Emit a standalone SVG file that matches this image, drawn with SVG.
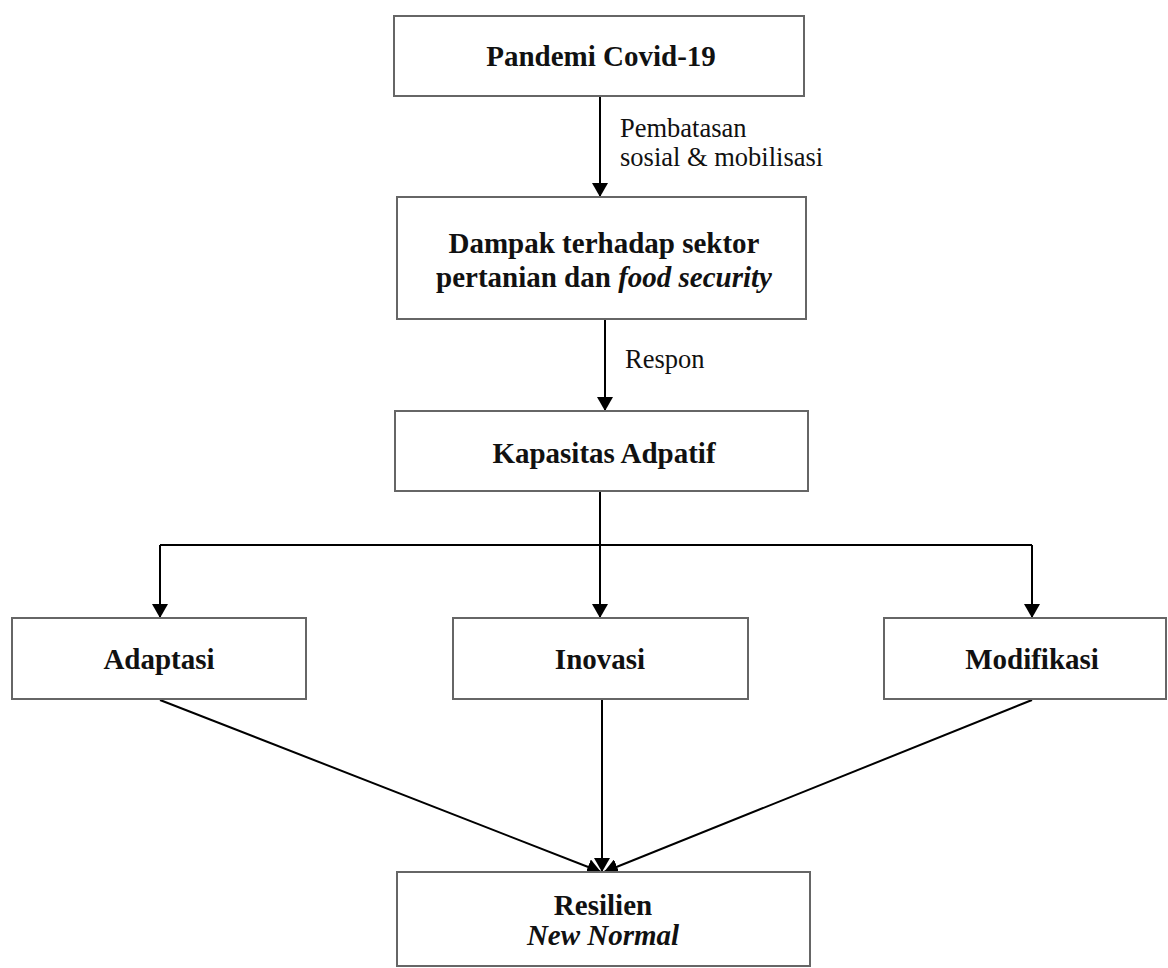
<svg xmlns="http://www.w3.org/2000/svg" width="1168" height="968" viewBox="0 0 1168 968">
<style>
.box{fill:#fff;stroke:#666;stroke-width:2}
.t{font-family:"Liberation Serif","Times New Roman",serif;font-size:29px;font-weight:bold;fill:#111;text-anchor:middle}
.l{font-family:"Liberation Serif","Times New Roman",serif;font-size:26.5px;fill:#111}
.c{fill:none;stroke:#000;stroke-width:2}
</style>
<defs>
<marker id="ah" viewBox="0 0 14 16" refX="14" refY="8" markerWidth="14" markerHeight="16" markerUnits="userSpaceOnUse" orient="auto">
<path d="M0,0 L14,8 L0,16 Z" fill="#000"/>
</marker>
</defs>
<g id="connectors">
<line class="c" x1="600" y1="97" x2="600" y2="197" marker-end="url(#ah)"/>
<line class="c" x1="605" y1="320" x2="605" y2="411" marker-end="url(#ah)"/>
<polyline class="c" points="600,492 600,545"/>
<polyline class="c" points="160,545 1032,545"/>
<line class="c" x1="160" y1="545" x2="160" y2="618" marker-end="url(#ah)"/>
<line class="c" x1="600" y1="545" x2="600" y2="618" marker-end="url(#ah)"/>
<line class="c" x1="1032" y1="545" x2="1032" y2="618" marker-end="url(#ah)"/>
<line class="c" x1="602" y1="700" x2="602" y2="872" marker-end="url(#ah)"/>
<line class="c" x1="160" y1="700" x2="601" y2="872" marker-end="url(#ah)"/>
<line class="c" x1="1032" y1="700" x2="604" y2="872" marker-end="url(#ah)"/>
<text class="l" x="620" y="137">Pembatasan</text>
<text class="l" x="620" y="166">sosial &amp; mobilisasi</text>
<text class="l" x="625" y="368">Respon</text>
</g>
<g id="n1"><rect class="box" x="394" y="16" width="410" height="80"/><text class="t" x="601" y="66">Pandemi Covid-19</text></g>
<g id="n2"><rect class="box" x="397" y="197" width="409" height="122"/><text class="t" x="604" y="253">Dampak terhadap sektor</text><text class="t" x="604" y="287">pertanian dan <tspan font-style="italic">food security</tspan></text></g>
<g id="n3"><rect class="box" x="395" y="411" width="413" height="80"/><text class="t" x="604" y="463">Kapasitas Adpatif</text></g>
<g id="n4"><rect class="box" x="12" y="618" width="294" height="81"/><text class="t" x="159" y="669">Adaptasi</text></g>
<g id="n5"><rect class="box" x="453" y="618" width="295" height="81"/><text class="t" x="600" y="669">Inovasi</text></g>
<g id="n6"><rect class="box" x="884" y="618" width="282" height="81"/><text class="t" x="1032" y="669">Modifikasi</text></g>
<g id="n7"><rect class="box" x="397" y="872" width="413" height="94"/><text class="t" x="603" y="915">Resilien</text><text class="t" x="603" y="945" font-style="italic">New Normal</text></g>
</svg>
